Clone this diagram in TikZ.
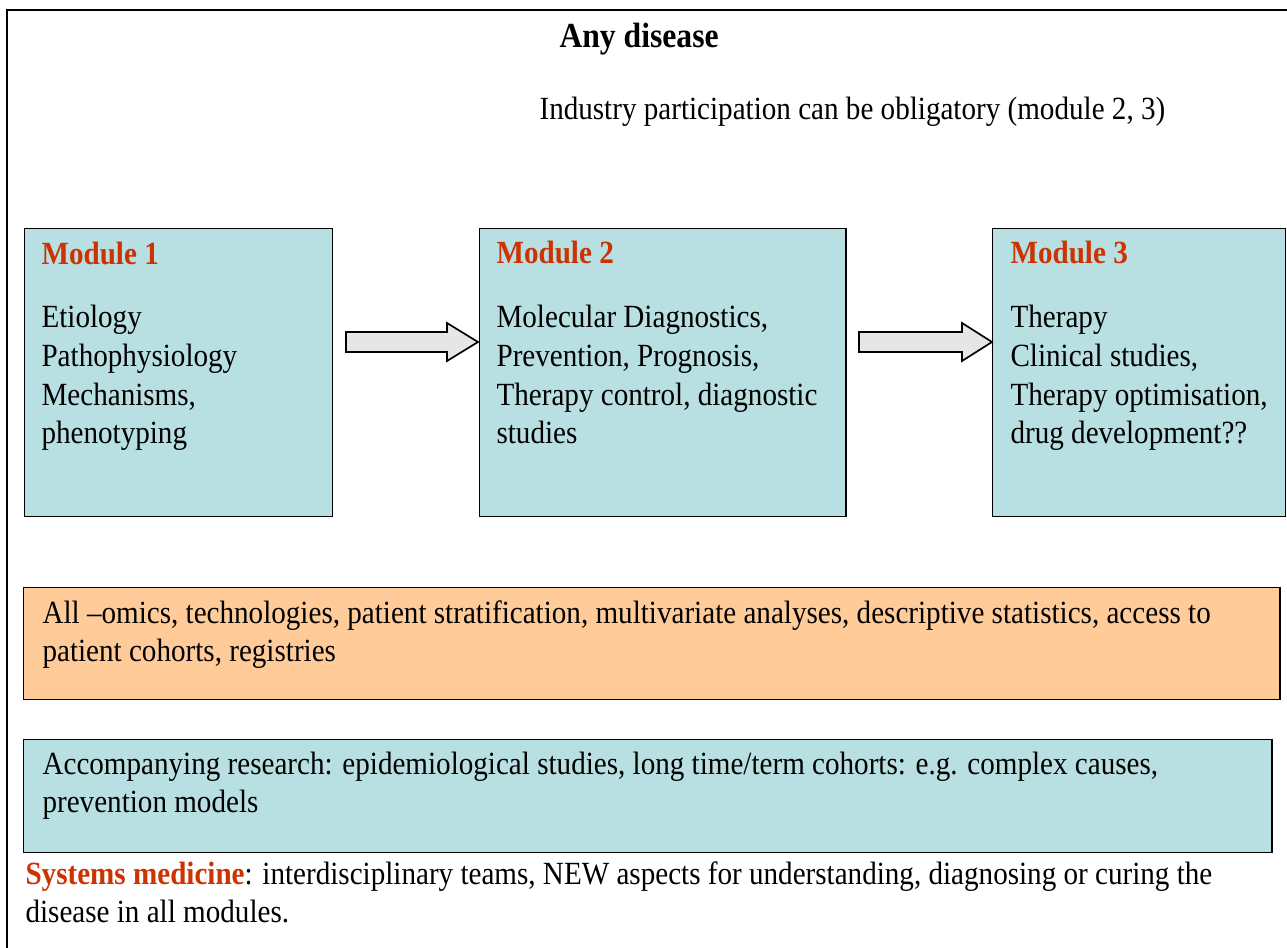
\documentclass[tikz,border=0pt]{standalone}
\usepackage{fontspec}
\setmainfont[FakeStretch=0.9]{Liberation Serif}
\usetikzlibrary{calc}
\definecolor{modblue}{RGB}{184,223,226}
\definecolor{omicsorange}{RGB}{255,204,153}
\definecolor{titlered}{RGB}{204,51,0}
\definecolor{arrowgray}{RGB}{230,230,230}
\tikzset{box/.style={draw,line width=0.5pt,anchor=north west,inner sep=0pt}}
\tikzset{modbox/.style={box,fill=modblue,minimum height=3.6cm}}
\tikzset{txt/.style={anchor=base west,inner sep=0pt,align=left,font=\fontsize{11.5pt}{13.75pt}\selectfont}}
\tikzset{modtitle/.style={txt,font=\fontsize{11.5pt}{13.75pt}\selectfont\bfseries,text=titlered}}
\tikzset{blockarrow/.style={draw,line width=0.6pt,fill=arrowgray,line join=miter}}

\begin{document}
\begin{tikzpicture}[x=0.0125cm,y=-0.0125cm]
                    \fill[white] (0,0) rectangle (1287,948);
                    \useasboundingbox (0,0) rectangle (1287,948);
                    \clip (0,0) rectangle (1287,948);
                    \draw[line width=0.5pt] (7,10) rectangle (1310,980);

                    % base anchor of a multi-line node = baseline of its last line
                    \node[txt,font=\fontsize{12.5pt}{14pt}\selectfont\bfseries] (title) at (559,48) {Any disease};
                    \node[txt] (industry) at (539,120) {Industry participation can be obligatory (module 2, 3)};

                    \node[modbox,minimum width=3.85cm] (m1) at (24,228) {};
                    \node[modbox,minimum width=4.575cm] (m2) at (479,228) {};
                    \node[modbox,minimum width=3.6625cm] (m3) at (992,228) {};

                    \node[modtitle] (m1title) at (41,265) {Module 1};
                    \node[txt] (m1text) at (41,444) {Etiology\\Pathophysiology\\Mechanisms,\\phenotyping};
                    \node[modtitle] (m2title) at (496,264) {Module 2};
                    \node[txt] (m2text) at (496,444) {Molecular Diagnostics,\\Prevention, Prognosis,\\Therapy control, diagnostic\\studies};
                    \node[modtitle] (m3title) at (1010,264) {Module 3};
                    \node[txt] (m3text) at (1010,444) {Therapy\\Clinical studies,\\Therapy optimisation,\\drug development??};

                    \coordinate (a1) at (346,342);
                    \coordinate (a2) at (859,342);
                    \draw[blockarrow] (a1) ++(0,-10) -- ++(101,0) -- ++(0,-9) -- ++(31,19) -- ++(-31,19) -- ++(0,-9) -- ++(-101,0) -- cycle;
                    \draw[blockarrow] (a2) ++(0,-10) -- ++(103,0) -- ++(0,-9) -- ++(30,19) -- ++(-30,19) -- ++(0,-9) -- ++(-103,0) -- cycle;

                    \node[box,fill=omicsorange,minimum width=15.7cm,minimum height=1.4cm] (omics) at (23,587) {};
                    \node[txt] (omicstext) at (42,662) {All --omics, technologies, patient stratification, multivariate analyses, descriptive statistics, access to\\patient cohorts, registries};

                    \node[box,fill=modblue,minimum width=15.6cm,minimum height=1.4125cm] (accomp) at (23,739) {};
                    \node[txt] (accomptext) at (42,813) {Accompanying research: epidemiological studies, long time/term cohorts: e.g. complex causes,\\prevention models};

                    \node[txt] (sysmed) at (25,923) {{\bfseries\color{titlered}Systems medicine}: interdisciplinary teams, NEW aspects for understanding, diagnosing or curing the\\disease in all modules.};
                \end{tikzpicture}
\end{document}
